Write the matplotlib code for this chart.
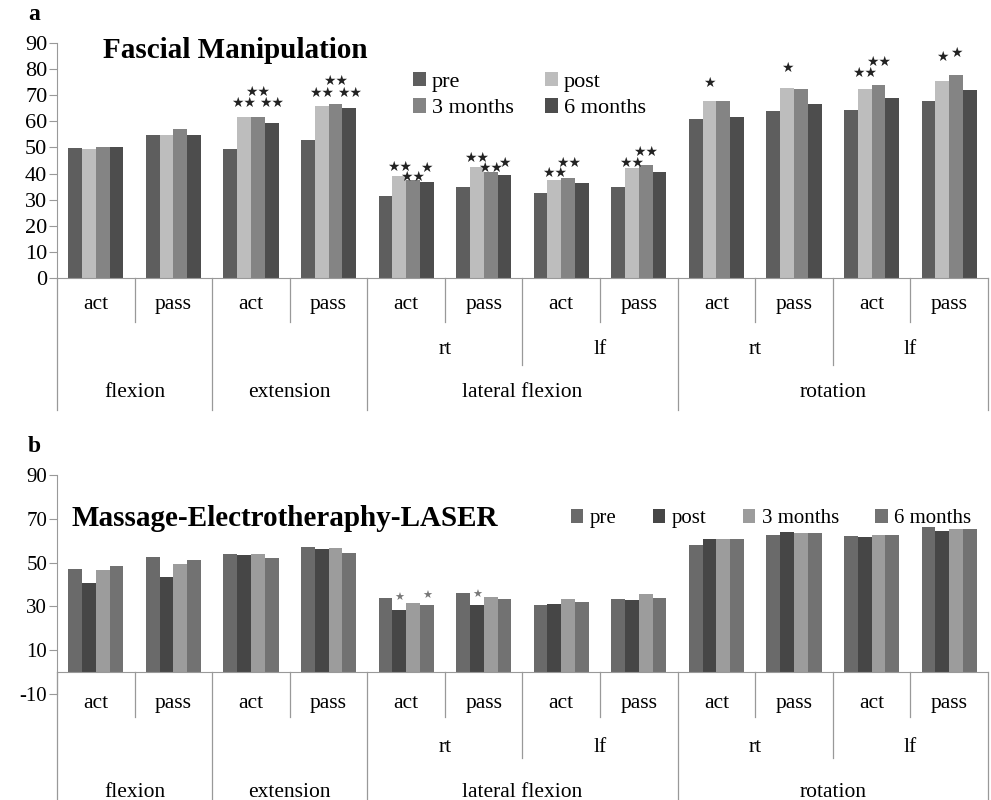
import numpy as np
import matplotlib
matplotlib.use('Agg')
import matplotlib.pyplot as plt

plt.rcParams['font.family'] = ['Liberation Serif', 'DejaVu Sans']
plt.rcParams['axes.unicode_minus'] = False

# data
sub_labels = ['act', 'pass'] * 6
side_labels = ['', '', 'rt', 'lf', 'rt', 'lf']
movements = ['flexion', 'extension', 'lateral flexion', 'rotation']
series = ['pre', 'post', '3 months', '6 months']

fm_pre = [49.8, 54.9, 49.4, 53.0, 31.5, 35.0, 32.4, 35.0, 61.0, 63.9, 64.3, 67.9]
fm_post = [49.3, 54.9, 61.8, 65.8, 38.9, 42.6, 37.5, 42.0, 67.9, 72.9, 72.2, 75.4]
fm_3m = [50.3, 57.0, 61.8, 66.8, 37.4, 40.5, 38.4, 43.4, 67.9, 72.3, 73.9, 77.8]
fm_6m = [50.3, 54.9, 59.4, 65.0, 36.6, 39.4, 36.4, 40.5, 61.5, 66.8, 68.9, 72.0]

mel_pre = [46.9, 52.6, 53.9, 57.3, 33.7, 35.9, 30.5, 33.3, 57.9, 62.7, 62.1, 66.4]
mel_post = [40.7, 43.6, 53.4, 56.0, 28.5, 30.8, 31.1, 32.8, 60.7, 64.1, 61.9, 64.6]
mel_3m = [46.4, 49.5, 53.7, 56.5, 31.7, 34.5, 33.3, 35.7, 60.7, 63.5, 62.6, 65.5]
mel_6m = [48.5, 51.4, 51.9, 54.2, 30.8, 33.2, 32.0, 33.7, 60.7, 63.5, 62.6, 65.5]

# significance marks: (group, series index, text, pixels above bar)
fm_stars = [(2, 1, '★★', 14), (2, 2, '★★', 25), (2, 3, '★★', 20),
            (3, 1, '★★', 13), (3, 2, '★★', 23), (3, 3, '★★', 15),
            (4, 1, '★★', 9), (4, 2, '★★', 3), (4, 3, '★', 14),
            (5, 1, '★★', 9), (5, 2, '★★', 4), (5, 3, '★', 12),
            (6, 1, '★★', 7), (6, 2, '★★', 15),
            (7, 1, '★★', 5), (7, 2, '★★', 13),
            (8, 1, '★', 18), (9, 1, '★', 20),
            (10, 1, '★★', 17), (10, 2, '★★', 23),
            (11, 1, '★', 24), (11, 2, '★', 22)]
mel_stars = [(4, 1, '★', 12), (4, 3, '★', 9), (5, 1, '★', 10)]

fm_colors = ['#5e5e5e', '#bdbdbd', '#848484', '#4d4d4d']
mel_colors = ['#6a6a6a', '#464646', '#9c9c9c', '#727272']

fig = plt.figure(figsize=(9.91, 8), dpi=100)
ax_a = fig.add_axes([57/991, 1-278/800, 931/991, 235/800])
ax_b = fig.add_axes([57/991, 1-694/800, 931/991, 219/800])

x = np.arange(12)
w = 0.178


def draw_panel(ax, vals, colors, stars, star_col, star_size, ylo, yhi, yticks, h_px,
               rows, depths, tick_fs):
    for i, v in enumerate(vals):
        ax.bar(x + (i - 1.5) * w, v, w, color=colors[i], label=series[i], zorder=2)
    for g, s, txt, off in stars:
        ax.annotate(txt, xy=(x[g] + (s - 1.5) * w, vals[s][g]), xytext=(0, off),
                    textcoords='offset pixels', ha='center', va='center',
                    fontsize=star_size, color=star_col, family='DejaVu Sans')
    ax.set_xlim(-0.5, 11.5)
    ax.set_ylim(ylo, yhi)
    ax.set_yticks(yticks)
    ax.tick_params(axis='y', labelsize=tick_fs, length=6, color='#999999', pad=1)
    ax.set_xticks([])
    for sp in ['top', 'right']:
        ax.spines[sp].set_visible(False)
    ax.spines['left'].set_color('#999999')
    ax.spines['bottom'].set_color('#999999')
    ax.spines['bottom'].set_position(('data', 0))

    # category table under the axis
    base = (0 - ylo) / (yhi - ylo)
    tr = ax.get_xaxis_transform()

    def down(px):
        return base - px / h_px

    lc = '#999999'
    for k in range(13):
        xb = k - 0.5
        if k in (0, 2, 4, 8, 12):
            depth = depths[2]
        elif k in (6, 10):
            depth = depths[1]
        else:
            depth = depths[0]
        ax.plot([xb, xb], [base, down(depth)], color=lc, lw=0.9, transform=tr, clip_on=False)
    for k in range(12):
        ax.text(x[k], down(rows[0]), sub_labels[k], transform=tr, ha='center', va='center',
                fontsize=15.5)
    for j, lab in enumerate(side_labels):
        if lab:
            ax.text(2 * j + 0.5, down(rows[1]), lab, transform=tr, ha='center', va='center',
                    fontsize=15.5)
    mids = [0.5, 2.5, 5.5, 9.5]
    for m, lab in zip(mids, movements):
        ax.text(m, down(rows[2]), lab, transform=tr, ha='center', va='center', fontsize=15.5)


draw_panel(ax_a, [fm_pre, fm_post, fm_3m, fm_6m], fm_colors, fm_stars, '#222222', 10,
           0, 90, range(0, 91, 10), 235, (27, 72, 115), (44, 87, 132), 16)
draw_panel(ax_b, [mel_pre, mel_post, mel_3m, mel_6m], mel_colors, mel_stars, '#777777', 8,
           -10, 90, range(-10, 91, 20), 219, (31, 75, 120), (45, 86, 140), 15)

# titles and legends
ax_a.text(0.049, 0.97, 'Fascial Manipulation', transform=ax_a.transAxes, fontsize=21,
          fontweight='bold', va='center')
h, l = ax_a.get_legend_handles_labels()
order = [0, 2, 1, 3]
ax_a.legend([h[i] for i in order], [l[i] for i in order], ncol=2, frameon=False,
            loc='upper left', bbox_to_anchor=(0.373, 0.915), fontsize=16,
            handlelength=0.6, handleheight=0.6, handletextpad=0.25,
            columnspacing=1.4, labelspacing=0.3, borderaxespad=0)

ax_b.text(0.016, 0.8, 'Massage-Electrotheraphy-LASER', transform=ax_b.transAxes, fontsize=21,
          fontweight='bold', va='center')
ax_b.legend(ncol=4, frameon=False, loc='center left', bbox_to_anchor=(0.543, 0.8),
            fontsize=15, handlelength=0.6, handleheight=0.6, handletextpad=0.3,
            columnspacing=1.75, borderaxespad=0)

fig.text(28/991, 1-15/800, 'a', fontsize=17, fontweight='bold', va='center')
fig.text(28/991, 1-447/800, 'b', fontsize=17, fontweight='bold', va='center')

fig.savefig('out.png', dpi=100, facecolor='white')
